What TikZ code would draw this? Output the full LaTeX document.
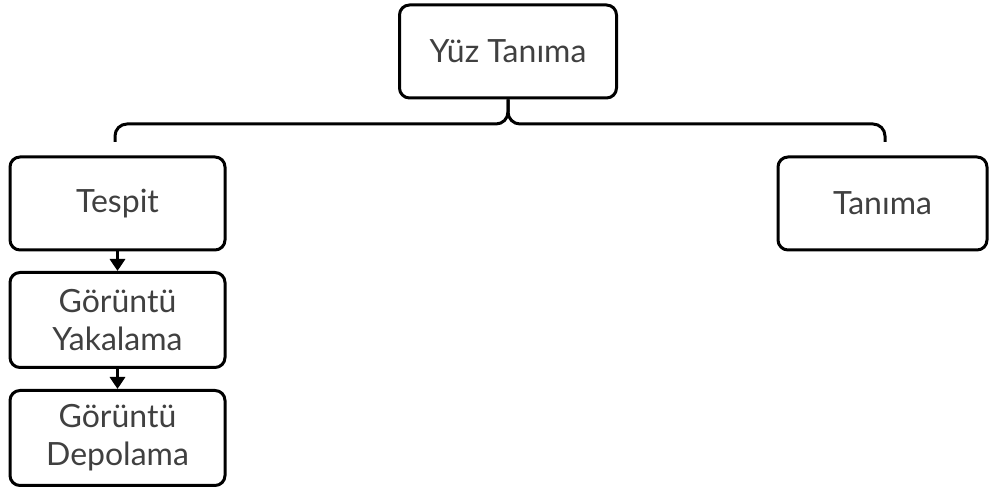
\documentclass[tikz,border=0pt]{standalone}
\usepackage{fontspec}
\setmainfont{Lato}
\usepackage{tikz}
\usetikzlibrary{arrows.meta}

\begin{document}
\begin{tikzpicture}[x=0.5pt,y=-0.5pt,
    box/.style={draw,line width=1.5pt,rounded corners=5pt,align=center,
      text=black!75,font=\fontsize{16}{19}\selectfont,
      minimum height=46.5pt,inner sep=0pt},
    brace/.style={line width=1.5pt,rounded corners=6pt},
    flow/.style={line width=1.5pt,-{Triangle[width=7.5pt,length=6pt]}}]
    \useasboundingbox (0,0) rectangle (989,490);

    \node [box,minimum width=108.5pt] (yuz) at (508,51.5) {Yüz Tanıma};
    \node [box,minimum width=107.5pt] (tespit) at (117.5,203.5) {Tespit};
    \node [box,minimum width=104.5pt] (tanima) at (882.5,203.5) {Tanıma};
    \node [box,minimum width=107.5pt,minimum height=47.5pt] (yakalama) at (117.5,320) {Görüntü\\Yakalama};
    \node [box,minimum width=107.5pt,minimum height=47.5pt] (depolama) at (117.5,438) {Görüntü\\Depolama};

    \coordinate (bl) at (115,142);
    \coordinate (br) at (885,142);
    \coordinate (bm) at (508,124);
    \draw [brace] (bl) |- (bm) -- (yuz.south);
    \draw [brace] (br) |- (bm) -- (yuz.south);

    \draw [flow] (tespit) -- (yakalama);
    \draw [flow] (yakalama) -- (depolama);
\end{tikzpicture}
\end{document}
